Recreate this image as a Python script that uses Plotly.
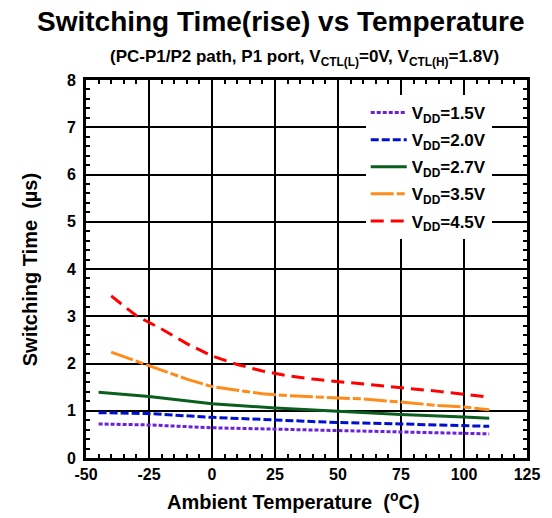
import plotly.graph_objects as go

t_low = [-45, -25, 0, 25, 50, 75, 100, 110]
v15 = [0.72, 0.70, 0.64, 0.61, 0.59, 0.56, 0.53, 0.51]
v20 = [0.96, 0.94, 0.86, 0.80, 0.75, 0.72, 0.69, 0.67]
v27 = [1.39, 1.30, 1.15, 1.06, 0.99, 0.92, 0.87, 0.84]

t_high = [-40, -30, -20, -10, 0, 10, 20, 30, 40, 50, 60, 70, 80, 90, 100, 110]
v35 = [2.24, 2.05, 1.86, 1.67, 1.51, 1.44, 1.36, 1.32, 1.29, 1.27, 1.25, 1.21, 1.16, 1.11, 1.08, 1.02]
v45 = [3.43, 3.01, 2.73, 2.42, 2.16, 1.98, 1.84, 1.74, 1.67, 1.62, 1.56, 1.52, 1.46, 1.41, 1.35, 1.29]

x_ticks = [-50, -25, 0, 25, 50, 75, 100, 125]
x_labels = ["-50", "-25", "0", "25", "50", "75", "100", "125"]
y_ticks = [0, 1, 2, 3, 4, 5, 6, 7, 8]
y_labels = ["0", "1", "2", "3", "4", "5", "6", "7", "8"]

series = [
    ("V<sub>DD</sub>=1.5V", t_low, v15, "#6a22d4", "4px,2px"),
    ("V<sub>DD</sub>=2.0V", t_low, v20, "#0010d0", "8px,3px"),
    ("V<sub>DD</sub>=2.7V", t_low, v27, "#0b5e1e", "solid"),
    ("V<sub>DD</sub>=3.5V", t_high, v35, "#ff8c1a", "23px,3px,8px,3px"),
    ("V<sub>DD</sub>=4.5V", t_high, v45, "#ff0000", "13px,7px"),
]

fig = go.Figure()
for i, (name, xs, ys, col, dash) in enumerate(series):
    fig.add_trace(go.Scatter(x=xs, y=ys, mode="lines", name="<b>%s</b>" % name,
                             legendgroup="g%d" % i,
                             line=dict(color=col, width=3, dash=dash)))

FONT = "Liberation Sans, Arial, sans-serif"

# page has an 8px body margin: figure is placed at (8, 8)
OFF = 8
L, R, T, B = 86, 529, 80, 458  # plot area in window pixels
W, H = 552 - OFF, 518 - OFF

axis_common = dict(
    showline=True, linecolor="black", linewidth=3, mirror="ticks",
    showgrid=True, gridcolor="black", gridwidth=2,
    ticks="inside", ticklen=5, tickwidth=2, tickcolor="black",
    zeroline=False,
    tickfont=dict(family=FONT, size=16, color="black"),
)

fig.update_xaxes(range=[-50, 125], tickvals=x_ticks, ticktext=["<b>%s</b>" % s for s in x_labels],
                 minor=dict(dtick=5, ticks="inside", ticklen=4, tickwidth=1.5, tickcolor="black", showgrid=False),
                 **axis_common)
fig.update_yaxes(range=[0, 8], tickvals=y_ticks, ticktext=["<b>%s</b>" % s for s in y_labels],
                 ticklabelstandoff=4,
                 minor=dict(dtick=0.2, ticks="inside", ticklen=4, tickwidth=1.5, tickcolor="black", showgrid=False),
                 **axis_common)

pw, ph = R - L, B - T

def px(x):
    return (x - L) / pw

def py(y):
    return (B - y) / ph

fig.update_layout(
    width=W, height=H,
    margin=dict(l=L - OFF, r=552 - R, t=T - OFF, b=518 - B),
    paper_bgcolor="white", plot_bgcolor="white",
    font=dict(family=FONT, color="black"),
    showlegend=True,
    legend=dict(x=px(367), y=py(95), xanchor="left", yanchor="top",
                bgcolor="white", borderwidth=0, itemwidth=36,
                font=dict(family=FONT, size=17, color="black"),
                tracegroupgap=2),
    annotations=[
        dict(text="<b>Switching Time(rise) vs Temperature</b>", xref="paper", yref="paper",
             x=px(282), y=py(21), xanchor="center", yanchor="middle",
             showarrow=False, font=dict(family=FONT, size=28, color="black")),
        dict(text="<b>(PC-P1/P2 path, P1 port, V<sub>CTL(L)</sub>=0V, V<sub>CTL(H)</sub>=1.8V)</b>",
             xref="paper", yref="paper",
             x=px(305), y=py(58), xanchor="center", yanchor="middle",
             showarrow=False, font=dict(family=FONT, size=17, color="black")),
        dict(text="<b>Ambient Temperature  (<sup>o</sup>C)</b>", xref="paper", yref="paper",
             x=px(294), y=py(500), xanchor="center", yanchor="middle",
             showarrow=False, font=dict(family=FONT, size=20, color="black")),
        dict(text="<b>Switching Time  (µs)</b>", xref="paper", yref="paper",
             x=px(30), y=py(270), xanchor="center", yanchor="middle", textangle=-90,
             showarrow=False, font=dict(family=FONT, size=20, color="black")),
    ],
)

fig.write_html("out.html")
